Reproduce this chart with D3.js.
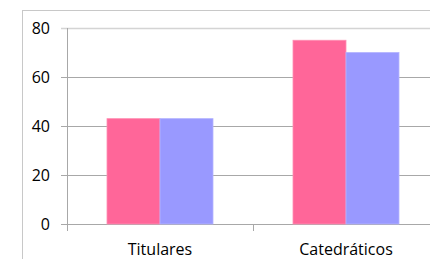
<!DOCTYPE html>
<html>
<head>
<meta charset="utf-8">
<script src="https://cdn.jsdelivr.net/npm/d3@7"></script>
<style>
  html, body { margin: 0; padding: 0; background: #fff; }
  svg { display: block; }
</style>
</head>
<body>
<div id="chart"></div>
<script>
var categories = ["Titulares", "Catedráticos"];
var seriesA = [43, 75];
var seriesB = [43, 70];
var yTicks = [0, 20, 40, 60, 80];

var width = 430, height = 259;
var font = "'Open Sans', Lato, sans-serif";

var svg = d3.select("#chart").append("svg")
    .attr("width", width)
    .attr("height", height);

// outer chart border (runs off the right / bottom edge)
svg.append("rect")
    .attr("x", 22.5).attr("y", 10.5)
    .attr("width", 500).attr("height", 400)
    .attr("fill", "none")
    .attr("stroke", "#c8c8c8");

var x = d3.scaleBand()
    .domain(categories)
    .range([67, 439]);

var y = d3.scaleLinear()
    .domain([0, 80])
    .range([224, 28]);

// gridlines + y labels
var grid = svg.append("g");
grid.selectAll("line")
    .data(yTicks)
    .enter().append("line")
    .attr("x1", 61).attr("x2", 440)
    .attr("y1", function(d){ return Math.round(y(d)) + 0.5; })
    .attr("y2", function(d){ return Math.round(y(d)) + 0.5; })
    .attr("stroke", function(d){ return d === 80 ? "#d4d4d4" : "#a8a8a8"; })
    .attr("stroke-width", function(d){ return d === 80 ? 1.6 : 1; });

grid.selectAll("text")
    .data(yTicks)
    .enter().append("text")
    .attr("x", 50)
    .attr("y", function(d){ return y(d) + 6; })
    .attr("text-anchor", "end")
    .attr("font-family", font)
    .attr("font-size", 16)
    .attr("fill", "#000")
    .text(function(d){ return d; });

// y axis line
svg.append("line")
    .attr("x1", 67.5).attr("x2", 67.5)
    .attr("y1", 28).attr("y2", 231)
    .attr("stroke", "#a8a8a8");

// category ticks
svg.selectAll(".xtick")
    .data(categories.slice(1))
    .enter().append("line")
    .attr("class", "xtick")
    .attr("x1", function(d){ return Math.round(x(d)) + 0.5; })
    .attr("x2", function(d){ return Math.round(x(d)) + 0.5; })
    .attr("y1", 224).attr("y2", 231)
    .attr("stroke", "#a8a8a8");

// bars
var barW = 53;
var groups = svg.selectAll(".cat")
    .data(categories)
    .enter().append("g")
    .attr("class", "cat");

groups.append("rect")
    .attr("x", function(d){ return x(d) + x.bandwidth() / 2 - barW; })
    .attr("y", function(d, i){ return y(seriesA[i]); })
    .attr("width", barW)
    .attr("height", function(d, i){ return y(0) - y(seriesA[i]); })
    .attr("fill", "#ff6699")
    .attr("stroke", "#ff8fb3")
    .attr("stroke-width", 0.8);

groups.append("rect")
    .attr("x", function(d){ return x(d) + x.bandwidth() / 2; })
    .attr("y", function(d, i){ return y(seriesB[i]); })
    .attr("width", barW)
    .attr("height", function(d, i){ return y(0) - y(seriesB[i]); })
    .attr("fill", "#9999ff")
    .attr("stroke", "#b3b3ff")
    .attr("stroke-width", 0.8);

// category labels
svg.selectAll(".xlabel")
    .data(categories)
    .enter().append("text")
    .attr("class", "xlabel")
    .attr("x", function(d){ return x(d) + x.bandwidth() / 2; })
    .attr("y", 255)
    .attr("text-anchor", "middle")
    .attr("font-family", font)
    .attr("font-size", 16)
    .attr("fill", "#000")
    .text(function(d){ return d; });
</script>
</body>
</html>
